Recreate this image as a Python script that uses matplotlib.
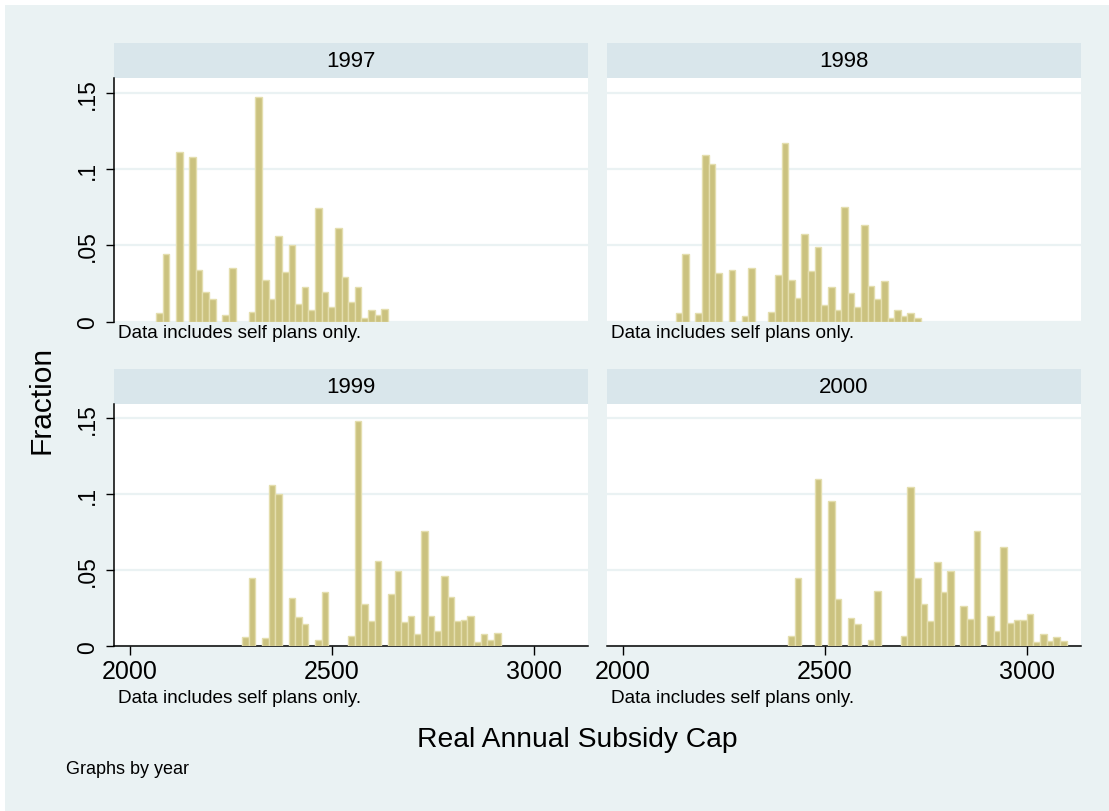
import numpy as np
import matplotlib.pyplot as plt
from matplotlib.patches import Rectangle

plt.rcParams['font.family'] = ['Liberation Sans', 'DejaVu Sans']

# Histogram bins shared by all years
bin_lo = 2065.5
bin_w = 16.4
n_bins = 63

years = ['1997', '1998', '1999', '2000']

# Fraction of plans per bin (bin 0 starts at bin_lo)
frac_1997 = [.0059, .0447, 0, .111, 0, .108, .0342, .0197, .0151, 0,
             .0044, .0353, 0, 0, .0066, .1474, .0276, .0151, .0564, .0329,
             .0504, .0114, .0230, .0075, .0743, .0197, .0099, .0614, .0296, .0129,
             .0230, .0024, .0079, .0042, .0081, 0, 0, 0, 0, 0,
             0, 0, 0, 0, 0, 0, 0, 0, 0, 0,
             0, 0, 0, 0, 0, 0, 0, 0, 0, 0,
             0, 0, 0]
frac_1998 = [0, 0, 0, 0, .0059, .0447, 0, .0055, .109, .1033,
             .032, 0, .034, 0, .0039, .0353, 0, 0, .0066, .0309,
             .1171, .0276, .0156, .0572, .0333, .0493, .011, .023, .0079, .0754,
             .0189, .0096, .0632, .0237, .0149, .027, .0024, .0079, .0035, .0057,
             .0026, 0, 0, 0, 0, 0, 0, 0, 0, 0,
             0, 0, 0, 0, 0, 0, 0, 0, 0, 0,
             0, 0, 0]
frac_1999 = [0, 0, 0, 0, 0, 0, 0, 0, 0, 0,
             0, 0, 0, .0064, .0452, 0, .0053, .1059, .100, 0,
             .0316, .0193, .0149, 0, .0042, .0355, 0, 0, 0, .0068,
             .148, .0276, .0164, .0564, 0, .0344, .0496, .0158, .0202, .0079,
             .0759, .0197, .0099, .0465, .0325, .0164, .0171, .0202, .0026, .0079,
             .0039, .0086, 0, 0, 0, 0, 0, 0, 0, 0,
             0, 0, 0]
frac_2000 = [0, 0, 0, 0, 0, 0, 0, 0, 0, 0,
             0, 0, 0, 0, 0, 0, 0, 0, 0, 0,
             0, .0066, .0452, 0, 0, .1099, 0, .0958, .0314, 0,
             .0184, .0149, 0, .0042, .0362, 0, 0, 0, .0068, .1046,
             .045, .0279, .0169, .0553, .0355, .0498, 0, .0263, .018, .0757,
             0, .0197, .0103, .0651, .0151, .0171, .0171, .0211, .0029, .0079,
             .0037, .0059, .0033]
fractions = [frac_1997, frac_1998, frac_1999, frac_2000]

y_ticks = [0, .05, .1, .15]
y_labels = ['0', '.05', '.1', '.15']
x_ticks = [2000, 2500, 3000]

W, H = 1109, 812
bg = '#EAF2F3'
strip_col = '#D9E6EB'
bar_fill = '#CBC27F'
bar_edge = '#E4DEAE'

fig = plt.figure(figsize=(W / 100, H / 100), dpi=100)
fig.patch.set_facecolor('white')
fig.patches.append(Rectangle((5 / W, 0), 1, 1 - 6 / H, transform=fig.transFigure,
                             facecolor=bg, edgecolor='none', zorder=-10))


def box(x0, y0, x1, y1):
    return [x0 / W, 1 - y1 / H, (x1 - x0) / W, (y1 - y0) / H]


cols = [(114, 588), (607, 1081)]
rows = [(44, 79.3, 322.7), (370, 404.7, 647.3)]
edges = bin_lo + bin_w * np.arange(n_bins)

for i, (year, frac) in enumerate(zip(years, fractions)):
    r, c = divmod(i, 2)
    x0, x1 = cols[c]
    s0, p0, p1 = rows[r]

    # strip with the year
    sax = fig.add_axes(box(x0, s0, x1, p0))
    sax.set_facecolor(strip_col)
    sax.set_xticks([])
    sax.set_yticks([])
    for sp in sax.spines.values():
        sp.set_visible(False)
    sax.text(0.5, 0.5, year, ha='center', va='center', fontsize=16,
             transform=sax.transAxes)

    ax = fig.add_axes(box(x0, p0, x1, p1))
    ax.set_facecolor('white')
    frac = np.array(frac)
    keep = frac > 0
    ax.bar(edges[keep], frac[keep], width=bin_w, align='edge',
           color=bar_fill, edgecolor=bar_edge, linewidth=1.0, zorder=3)
    ax.set_xlim(1961.5, 3134.5)
    ax.set_ylim(0, 0.1596)
    ax.set_yticks(y_ticks)
    ax.grid(axis='y', color=bg, linewidth=1.6, zorder=0)
    ax.set_axisbelow(True)
    for side in ('top', 'right'):
        ax.spines[side].set_visible(False)

    if c == 0:
        ax.set_yticklabels(y_labels, rotation=90, va='center', fontsize=16.5)
        ax.tick_params(axis='y', length=6, width=1, pad=5)
        ax.spines['left'].set_linewidth(1.1)
    else:
        ax.spines['left'].set_visible(False)
        ax.tick_params(axis='y', length=0, labelleft=False)

    ax.set_xticks(x_ticks)
    if r == 1:
        ax.tick_params(axis='x', length=6.5, width=1, pad=3, labelsize=18)
        ax.spines['bottom'].set_linewidth(1.1)
    else:
        ax.spines['bottom'].set_visible(False)
        ax.tick_params(axis='x', length=0, labelbottom=False)

    # note under each panel
    note_y = 333 if r == 0 else 699
    fig.text((x0 + 4) / W, 1 - note_y / H, 'Data includes self plans only.',
             ha='left', va='center', fontsize=13.7)

fig.text(577 / W, 1 - 740 / H, 'Real Annual Subsidy Cap', ha='center',
         va='center', fontsize=20.3)
fig.text(42 / W, 1 - 400 / H, 'Fraction', ha='center', va='center',
         rotation=90, fontsize=21.5)
fig.text(66 / W, 1 - 770 / H, 'Graphs by year', ha='left', va='center',
         fontsize=13)

fig.savefig('out.png', dpi=100)
